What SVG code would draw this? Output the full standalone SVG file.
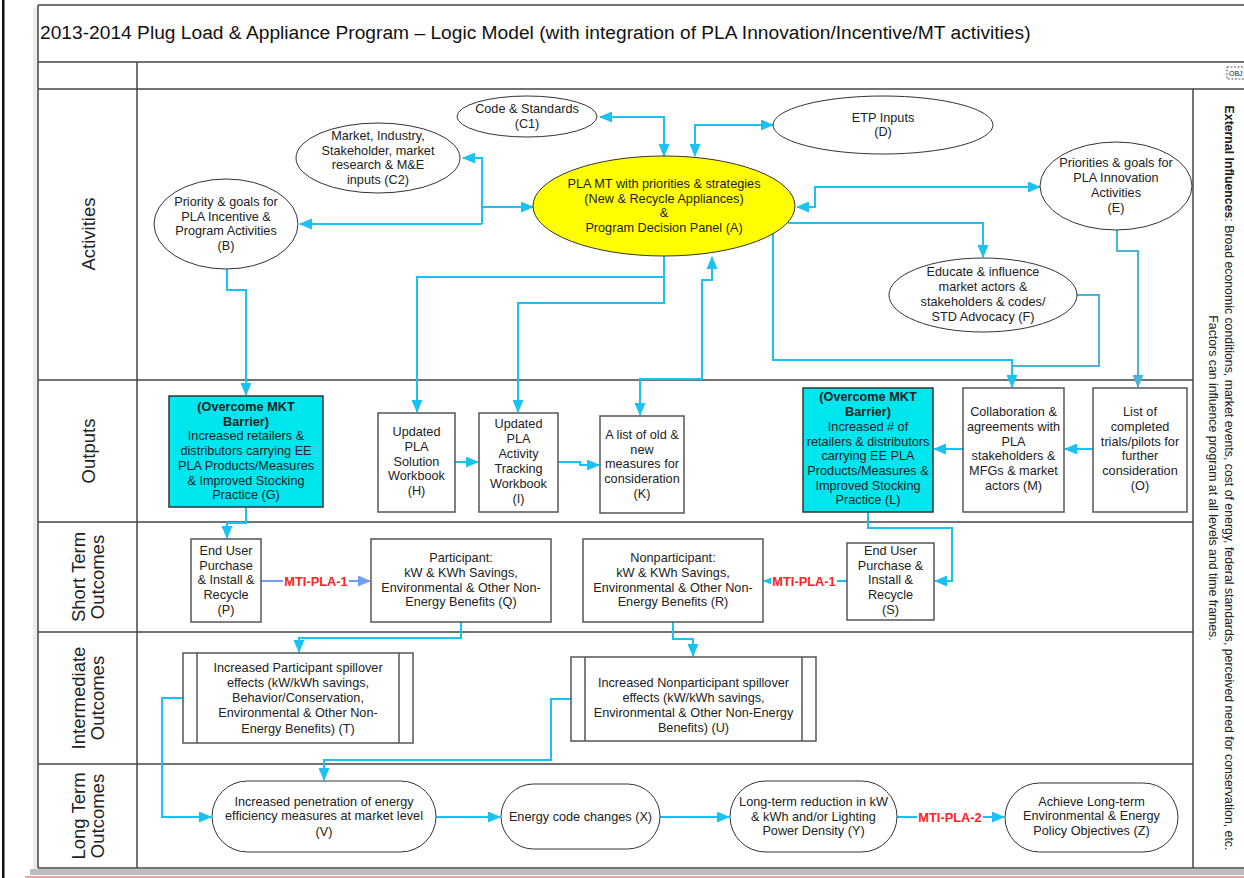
<svg xmlns="http://www.w3.org/2000/svg" width="1244" height="878" viewBox="0 0 1244 878">
<style>
.t{font-family:"Liberation Sans",Arial,sans-serif;font-size:12.7px;fill:#222;text-anchor:middle}
.b{font-weight:bold}
.lane{font-family:"Liberation Sans",Arial,sans-serif;font-size:18.5px;fill:#222;text-anchor:middle;dominant-baseline:central}
.ttl{font-family:"Liberation Sans",Arial,sans-serif;font-size:19.2px;fill:#111}
.ext{font-family:"Liberation Sans",Arial,sans-serif;font-size:12.3px;fill:#222;text-anchor:middle;dominant-baseline:central}
.frame{stroke:#444;stroke-width:1.5;fill:none}
.ell{fill:#fff;stroke:#333;stroke-width:1}
.box{fill:#fff;stroke:#555;stroke-width:1.5}
.cyanbox{fill:#00e6ef;stroke:#333;stroke-width:1.5}
.c{fill:none;stroke:#19c2f2;stroke-width:2}
.cm{fill:none;stroke:#4db3d3;stroke-width:2}
.cp{fill:none;stroke:#6e9ef6;stroke-width:2}
.mti{font-family:"Liberation Sans",Arial,sans-serif;font-size:12.8px;font-weight:bold;fill:#ff2222;text-anchor:middle}
</style>
<defs>
<marker id="ah" markerWidth="13" markerHeight="11" refX="12" refY="5.5" orient="auto-start-reverse" markerUnits="userSpaceOnUse"><path d="M0,0 L13,5.5 L0,11 z" fill="#19c2f2"/></marker>
<marker id="am" markerWidth="13" markerHeight="11" refX="12" refY="5.5" orient="auto-start-reverse" markerUnits="userSpaceOnUse"><path d="M0,0 L13,5.5 L0,11 z" fill="#4db3d3"/></marker>
<marker id="ap" markerWidth="13" markerHeight="11" refX="12" refY="5.5" orient="auto-start-reverse" markerUnits="userSpaceOnUse"><path d="M0,0 L13,5.5 L0,11 z" fill="#6e9ef6"/></marker>
</defs>
<rect x="0" y="0" width="1244" height="878" fill="#fff"/>
<g id="frame">
<rect x="2" y="0" width="2.5" height="878" fill="#111"/>
<rect x="33" y="8" width="5" height="862" fill="#ececec"/>
<rect x="30" y="869" width="1214" height="6" fill="#bdbdbd"/>
<line x1="25" y1="877" x2="1244" y2="877" stroke="#d88" stroke-width="1.5"/>
<line class="frame" x1="38" y1="5" x2="1244" y2="5"/>
<line class="frame" x1="38" y1="5" x2="38" y2="868"/>
<line class="frame" x1="38" y1="62" x2="1244" y2="62"/>
<line class="frame" x1="38" y1="89" x2="1244" y2="89"/>
<line class="frame" x1="137" y1="62" x2="137" y2="868"/>
<line class="frame" x1="38" y1="380" x2="1193" y2="380"/>
<line class="frame" x1="38" y1="522" x2="1193" y2="522"/>
<line class="frame" x1="38" y1="632" x2="1193" y2="632"/>
<line class="frame" x1="38" y1="764" x2="1193" y2="764"/>
<line class="frame" x1="1193" y1="89" x2="1193" y2="868"/>
<line class="frame" x1="38" y1="868" x2="1244" y2="868"/>
<text class="ttl" x="40" y="39">2013-2014 Plug Load &amp; Appliance Program – Logic Model (with integration of PLA Innovation/Incentive/MT activities)</text>
<rect x="1227" y="67" width="20" height="12" fill="none" stroke="#333" stroke-width="0.8" stroke-dasharray="2,1.5"/>
<text x="1229" y="76" font-family="Liberation Sans,Arial,sans-serif" font-size="7" fill="#222">OBJ</text>
</g>
<g id="lanes">
<text class="lane" transform="translate(88,234) rotate(-90)">Activities</text>
<text class="lane" transform="translate(88,451) rotate(-90)">Outputs</text>
<text class="lane" transform="translate(78,577) rotate(-90)">Short Term</text>
<text class="lane" transform="translate(97,577) rotate(-90)">Outcomes</text>
<text class="lane" transform="translate(78,698) rotate(-90)">Intermediate</text>
<text class="lane" transform="translate(97,698) rotate(-90)">Outcomes</text>
<text class="lane" transform="translate(78,816) rotate(-90)">Long Term</text>
<text class="lane" transform="translate(97,816) rotate(-90)">Outcomes</text>
</g>
<g id="external">
<text class="ext" transform="translate(1229,478) rotate(90)"><tspan font-weight="bold">External Influences</tspan>: Broad economic conditions, market events, cost of energy, federal standards, perceived need for conservation, etc.</text>
<text class="ext" transform="translate(1213,478) rotate(90)">Factors can influence program at all levels and time frames.</text>
</g>
<g id="connectors">
<path class="c" d="M600,117 L664,117 L664,156" marker-start="url(#ah)" marker-end="url(#ah)"/>
<path class="c" d="M695,156 L695,125 L773,125" marker-start="url(#ah)" marker-end="url(#ah)"/>
<path class="c" d="M482,207 L533,207" marker-end="url(#ah)"/>
<path class="c" d="M482,224 L482,158 L463,158" marker-end="url(#ah)"/>
<path class="c" d="M482,224 L300,224" marker-end="url(#ah)"/>
<path class="c" d="M797,207 L815,207 L815,187 L1040,187" marker-start="url(#ah)" marker-end="url(#ah)"/>
<path class="c" d="M788,223 L983,223 L983,257" marker-end="url(#ah)"/>
<path class="c" d="M773,233 L773,360 L1012,360 L1012,387" marker-end="url(#ah)"/>
<path class="cm" d="M1077,295 L1099,295 L1099,366 L1012,366"/>
<path class="cm" d="M1117,230 L1117,251 L1138,251 L1138,387" marker-end="url(#am)"/>
<path class="c" d="M664,256 L664,277 L417,277 L417,412" marker-end="url(#ah)"/>
<path class="c" d="M664,277 L664,303 L518,303 L518,412" marker-end="url(#ah)"/>
<path class="c" d="M640,415 L640,379 L702,379 L702,280 L712,280 L712,257" marker-start="url(#ah)" marker-end="url(#ah)"/>
<path class="c" d="M227,269 L227,290 L246,290 L246,395" marker-end="url(#ah)"/>
<path class="c" d="M455,462 L478,462" marker-end="url(#ah)"/>
<path class="c" d="M558,462 L580,462 L580,465 L599,465" marker-end="url(#ah)"/>
<path class="c" d="M1093,449 L1065,449" marker-end="url(#ah)"/>
<path class="c" d="M963,449 L934,449" marker-end="url(#ah)"/>
<path class="c" d="M246,507 L246,523 L227,523 L227,538" marker-end="url(#ah)"/>
<path class="c" d="M868,512 L868,528 L952,528 L952,581 L935,581" marker-end="url(#ah)"/>
<path class="cp" d="M261,581 L370,581" marker-end="url(#ap)"/>
<rect x="283" y="573" width="66" height="15" fill="#fff"/>
<text class="mti" x="316" y="585.5">MTI-PLA-1</text>
<path class="c" d="M847,581 L764,581" marker-end="url(#ah)"/>
<rect x="771" y="573" width="66" height="15" fill="#fff"/>
<text class="mti" x="804" y="585.5">MTI-PLA-1</text>
<path class="c" d="M461,622 L461,638 L299,638 L299,652" marker-end="url(#ah)"/>
<path class="c" d="M673,622 L673,639 L693,639 L693,656" marker-end="url(#ah)"/>
<path class="c" d="M183,698 L162,698 L162,817 L211,817" marker-end="url(#ah)"/>
<path class="c" d="M571,699 L551,699 L551,760 L324,760 L324,780" marker-end="url(#ah)"/>
<path class="c" d="M436,817 L500,817" marker-end="url(#ah)"/>
<path class="c" d="M660,817 L729,817" marker-end="url(#ah)"/>
<path class="c" d="M897,817 L1004,817" marker-end="url(#ah)"/>
<rect x="917" y="809" width="66" height="15" fill="#fff"/>
<text class="mti" x="950" y="821.5">MTI-PLA-2</text>
</g>
<g id="nodeC1"><ellipse class="ell" cx="527" cy="116.5" rx="70" ry="20.5"/>
<text class="t" x="527" y="113">Code &amp; Standards</text><text class="t" x="527" y="128">(C1)</text></g>
<g id="nodeC2"><ellipse class="ell" cx="378" cy="158" rx="82" ry="35"/>
<text class="t" x="378" y="140">Market, Industry,</text><text class="t" x="378" y="155">Stakeholder, market</text><text class="t" x="378" y="169">research &amp; M&amp;E</text><text class="t" x="378" y="184">inputs (C2)</text></g>
<g id="nodeB"><ellipse class="ell" cx="226" cy="224" rx="72" ry="45"/>
<text class="t" x="226" y="206">Priority &amp; goals for</text><text class="t" x="226" y="221">PLA Incentive &amp;</text><text class="t" x="226" y="235">Program Activities</text><text class="t" x="226" y="250">(B)</text></g>
<g id="nodeA"><ellipse cx="664" cy="206" rx="131" ry="50" fill="#ffff00" stroke="#333" stroke-width="1"/>
<text class="t" x="664" y="188">PLA MT with priorities &amp; strategies</text><text class="t" x="664" y="203">(New &amp; Recycle Appliances)</text><text class="t" x="664" y="217">&amp;</text><text class="t" x="664" y="232">Program Decision Panel (A)</text></g>
<g id="nodeD"><ellipse class="ell" cx="883" cy="125" rx="110" ry="29"/>
<text class="t" x="883" y="122">ETP Inputs</text><text class="t" x="883" y="136">(D)</text></g>
<g id="nodeE"><ellipse class="ell" cx="1116" cy="186" rx="76" ry="44"/>
<text class="t" x="1116" y="167">Priorities &amp; goals for</text><text class="t" x="1116" y="182">PLA Innovation</text><text class="t" x="1116" y="197">Activities</text><text class="t" x="1116" y="212">(E)</text></g>
<g id="nodeF"><ellipse class="ell" cx="983" cy="295" rx="94" ry="37"/>
<text class="t" x="983" y="276">Educate &amp; influence</text><text class="t" x="983" y="291">market actors &amp;</text><text class="t" x="983" y="306">stakeholders &amp; codes/</text><text class="t" x="983" y="321">STD Advocacy (F)</text></g>
<g id="nodeG"><rect class="cyanbox" x="169" y="396" width="154" height="111"/>
<text class="t b" x="246" y="411">(Overcome MKT</text><text class="t b" x="246" y="425.7">Barrier)</text><text class="t" x="246" y="440.4">Increased retailers &amp;</text><text class="t" x="246" y="455">distributors carrying EE</text><text class="t" x="246" y="469.8">PLA Products/Measures</text><text class="t" x="246" y="484.5">&amp; Improved Stocking</text><text class="t" x="246" y="499">Practice (G)</text></g>
<g id="nodeH"><rect class="box" x="378" y="413" width="77" height="99"/>
<text class="t" x="416.5" y="436">Updated</text><text class="t" x="416.5" y="451">PLA</text><text class="t" x="416.5" y="466">Solution</text><text class="t" x="416.5" y="480">Workbook</text><text class="t" x="416.5" y="495">(H)</text></g>
<g id="nodeI"><rect class="box" x="479" y="413" width="79" height="99"/>
<text class="t" x="518.5" y="428">Updated</text><text class="t" x="518.5" y="443">PLA</text><text class="t" x="518.5" y="458">Activity</text><text class="t" x="518.5" y="473">Tracking</text><text class="t" x="518.5" y="488">Workbook</text><text class="t" x="518.5" y="503">(I)</text></g>
<g id="nodeK"><rect class="box" x="600" y="416" width="84" height="97"/>
<text class="t" x="642" y="439">A list of old &amp;</text><text class="t" x="642" y="454">new</text><text class="t" x="642" y="468">measures for</text><text class="t" x="642" y="483">consideration</text><text class="t" x="642" y="498">(K)</text></g>
<g id="nodeL"><rect class="cyanbox" x="803" y="388" width="130" height="124"/>
<text class="t b" x="868" y="401">(Overcome MKT</text><text class="t b" x="868" y="416">Barrier)</text><text class="t" x="868" y="431">Increased # of</text><text class="t" x="868" y="446">retailers &amp; distributors</text><text class="t" x="868" y="460">carrying EE PLA</text><text class="t" x="868" y="475">Products/Measures &amp;</text><text class="t" x="868" y="490">Improved Stocking</text><text class="t" x="868" y="504">Practice (L)</text></g>
<g id="nodeM"><rect class="box" x="963" y="388" width="101" height="124"/>
<text class="t" x="1013.5" y="416">Collaboration &amp;</text><text class="t" x="1013.5" y="431">agreements with</text><text class="t" x="1013.5" y="446">PLA</text><text class="t" x="1013.5" y="460">stakeholders &amp;</text><text class="t" x="1013.5" y="475">MFGs &amp; market</text><text class="t" x="1013.5" y="490">actors (M)</text></g>
<g id="nodeO"><rect class="box" x="1093" y="388" width="94" height="124"/>
<text class="t" x="1140" y="416">List of</text><text class="t" x="1140" y="431">completed</text><text class="t" x="1140" y="446">trials/pilots for</text><text class="t" x="1140" y="460">further</text><text class="t" x="1140" y="475">consideration</text><text class="t" x="1140" y="490">(O)</text></g>
<g id="nodeP"><rect class="box" x="191" y="539" width="70" height="83"/>
<text class="t" x="226" y="555">End User</text><text class="t" x="226" y="570">Purchase</text><text class="t" x="226" y="584">&amp; Install &amp;</text><text class="t" x="226" y="599">Recycle</text><text class="t" x="226" y="614">(P)</text></g>
<g id="nodeQ"><rect class="box" x="371" y="539" width="180" height="83"/>
<text class="t" x="461" y="562">Participant:</text><text class="t" x="461" y="577">kW &amp; KWh Savings,</text><text class="t" x="461" y="592">Environmental &amp; Other Non-</text><text class="t" x="461" y="606">Energy Benefits (Q)</text></g>
<g id="nodeR"><rect class="box" x="583" y="539" width="180" height="83"/>
<text class="t" x="673" y="562">Nonparticipant:</text><text class="t" x="673" y="577">kW &amp; KWh Savings,</text><text class="t" x="673" y="592">Environmental &amp; Other Non-</text><text class="t" x="673" y="606">Energy Benefits (R)</text></g>
<g id="nodeS"><rect class="box" x="847" y="543" width="87" height="77"/>
<text class="t" x="890.5" y="555">End User</text><text class="t" x="890.5" y="570">Purchase &amp;</text><text class="t" x="890.5" y="584">Install &amp;</text><text class="t" x="890.5" y="599">Recycle</text><text class="t" x="890.5" y="614">(S)</text></g>
<g id="nodeT"><rect class="box" x="183" y="653" width="230" height="90"/>
<line x1="197" y1="653" x2="197" y2="743" stroke="#555" stroke-width="1.5"/><line x1="399" y1="653" x2="399" y2="743" stroke="#555" stroke-width="1.5"/>
<text class="t" x="298" y="672">Increased Participant spillover</text><text class="t" x="298" y="687">effects (kW/kWh savings,</text><text class="t" x="298" y="702">Behavior/Conservation,</text><text class="t" x="298" y="717">Environmental &amp; Other Non-</text><text class="t" x="298" y="733">Energy Benefits) (T)</text></g>
<g id="nodeU"><rect class="box" x="571" y="657" width="245" height="84"/>
<line x1="585" y1="657" x2="585" y2="741" stroke="#555" stroke-width="1.5"/><line x1="802" y1="657" x2="802" y2="741" stroke="#555" stroke-width="1.5"/>
<text class="t" x="693.5" y="687">Increased Nonparticipant spillover</text><text class="t" x="693.5" y="702">effects (kW/kWh savings,</text><text class="t" x="693.5" y="717">Environmental &amp; Other Non-Energy</text><text class="t" x="693.5" y="732">Benefits) (U)</text></g>
<g id="nodeV"><rect class="ell" x="212" y="781" width="224" height="71" rx="35.5"/>
<text class="t" x="324" y="806">Increased penetration of energy</text><text class="t" x="324" y="820">efficiency measures at market level</text><text class="t" x="324" y="836">(V)</text></g>
<g id="nodeX"><rect class="ell" x="501" y="784" width="159" height="65" rx="32.5"/>
<text class="t" x="580.5" y="821">Energy code changes (X)</text></g>
<g id="nodeY"><rect class="ell" x="730" y="781" width="167" height="71" rx="35.5"/>
<text class="t" x="813.5" y="806">Long-term reduction in kW</text><text class="t" x="813.5" y="821">&amp; kWh and/or Lighting</text><text class="t" x="813.5" y="835">Power Density (Y)</text></g>
<g id="nodeZ"><rect class="ell" x="1005" y="783" width="173" height="69" rx="34.5"/>
<text class="t" x="1091.5" y="806">Achieve Long-term</text><text class="t" x="1091.5" y="820">Environmental &amp; Energy</text><text class="t" x="1091.5" y="835">Policy Objectives (Z)</text></g>
</svg>
